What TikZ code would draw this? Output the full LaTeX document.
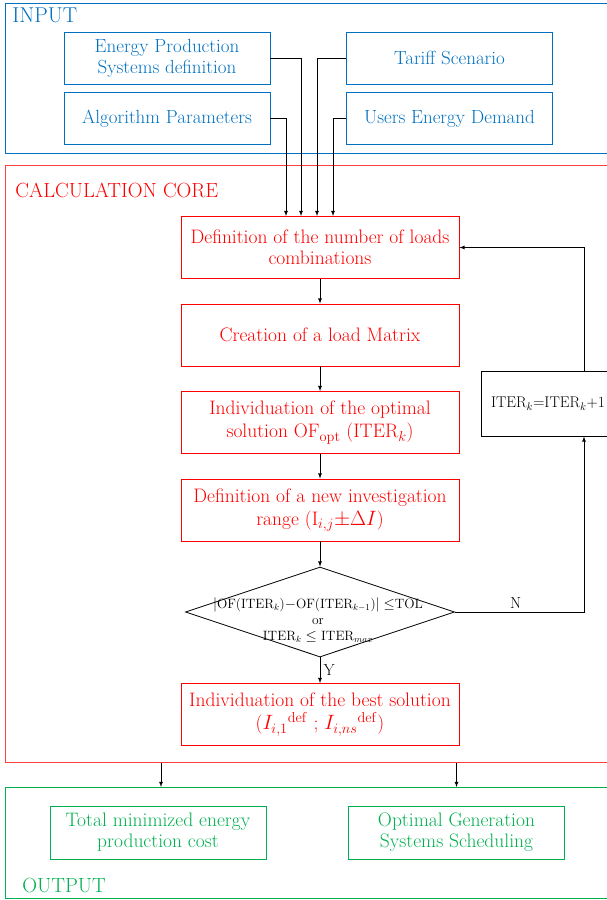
\documentclass[tikz,border=0pt]{standalone}
\usepackage{amssymb,amsfonts}
\usepackage{tikz}
\usetikzlibrary{shapes,arrows}
\definecolor{inblue}{RGB}{0,112,192}
\definecolor{outgreen}{RGB}{0,176,80}
\tikzset{
frame/.style={draw,line width=0.8pt,anchor=north west,inner sep=0pt,minimum width=620pt},
title/.style={anchor=base west,inner sep=0pt,font=\fontsize{20.5}{22}\selectfont},
inbox/.style={draw=inblue,text=inblue,line width=0.8pt,minimum width=206pt,minimum height=52pt,align=center,font=\fontsize{19}{21}\selectfont},
corebox/.style={draw=red,text=red,line width=0.8pt,minimum width=278pt,minimum height=62pt,align=center,font=\fontsize{19.5}{23}\selectfont},
outbox/.style={draw=outgreen,text=outgreen,line width=0.8pt,minimum width=216pt,minimum height=53pt,align=center,font=\fontsize{19.5}{21}\selectfont},
lbl/.style={font=\fontsize{16}{17}\selectfont}
}

\begin{document}
\begin{tikzpicture}[x=1pt,y=-1pt,>=latex,line width=0.8pt]
\clip (0,0) rectangle (607,900);
% frames
\node[frame,draw=inblue,minimum height=150pt] (input) at (5,3) {};
\node[frame,draw=red!75,minimum height=597pt] (core) at (5,165) {};
\node[frame,draw=outgreen,minimum height=111pt] (output) at (5,787) {};
\node[title,text=inblue,font=\fontsize{21.5}{22}\selectfont] (intitle) at (12,22) {INPUT};
\node[title,text=red] (coretitle) at (15,197) {CALCULATION CORE};
\node[title,text=outgreen] (outtitle) at (22,892) {OUTPUT};
% input
\node[inbox] (eps) at (167,58) {Energy Production\\Systems definition};
\node[inbox] (tariff) at (449.5,58) {Tariff Scenario};
\node[inbox] (algo) at (167,118.5) {Algorithm Parameters};
\node[inbox] (users) at (449.5,118.5) {Users Energy Demand};
% calculation core
\node[corebox,font=\fontsize{19.5}{21}\selectfont] (def) at (320,247.5) {Definition of the number of loads\\combinations};
\node[corebox] (mat) at (320,335) {Creation of a load Matrix};
\node[corebox] (opt) at (320,422.5) {Individuation of the optimal\\solution OF$_{\mathrm{opt}}$ (ITER$_k$)};
\node[corebox] (range) at (320,510) {Definition of a new investigation\\range (I$_{i,j}$$\pm\Delta I$)};
\node[draw,diamond,aspect=2.99,inner sep=0pt,minimum width=269pt,minimum height=90pt] (dec) at (320,612) {};
\node[align=center,font=\fontsize{13.5}{16}\selectfont] (dectext) at (318,620)
{$|$OF(ITER$_k$)$-$OF(ITER$_{k-1}$)$|\leq$TOL\\or\\ITER$_k\leq$ ITER$_{max}$};
\node[corebox] (best) at (320,714.5) {Individuation of the best solution\\($I_{i,1}{}^{\mathrm{def}}$ ; $I_{i,ns}{}^{\mathrm{def}}$)};
\node[draw,minimum width=134pt,minimum height=65pt,font=\fontsize{15.5}{17}\selectfont] (iter) at (548,403.5) {ITER$_k$=ITER$_k$+1};
\coordinate (loopx) at (584,0);
% output
\node[outbox] (cost) at (158,832.5) {Total minimized energy\\production cost};
\node[outbox] (sched) at (456.5,832.5) {Optimal Generation\\Systems Scheduling};
% connectors
\draw[->] (eps.east) -| ([xshift=-19pt]def.north);
\draw[->] (algo.east) -| ([xshift=-34pt]def.north);
\draw[->] (tariff.west) -| ([xshift=-3pt]def.north);
\draw[->] (users.west) -| ([xshift=13pt]def.north);
\draw (def) edge [->] (mat)
(mat) edge [->] (opt)
(opt) edge [->] (range)
(range) edge [->] (dec)
(dec) edge [->] node[right,lbl]{Y} (best);
\draw[->] (dec.east) -- node[pos=0.47,above,lbl]{N} (dec.east -| loopx) -- (loopx |- iter.south);
\draw[->] (loopx |- iter.north) -- (loopx |- def.east) -- (def.east);
\draw[->] (core.south -| 161,0) -- (output.north -| 161,0);
\draw[->] (core.south -| sched.north) -- (output.north -| sched.north);
\end{tikzpicture}
\end{document}
